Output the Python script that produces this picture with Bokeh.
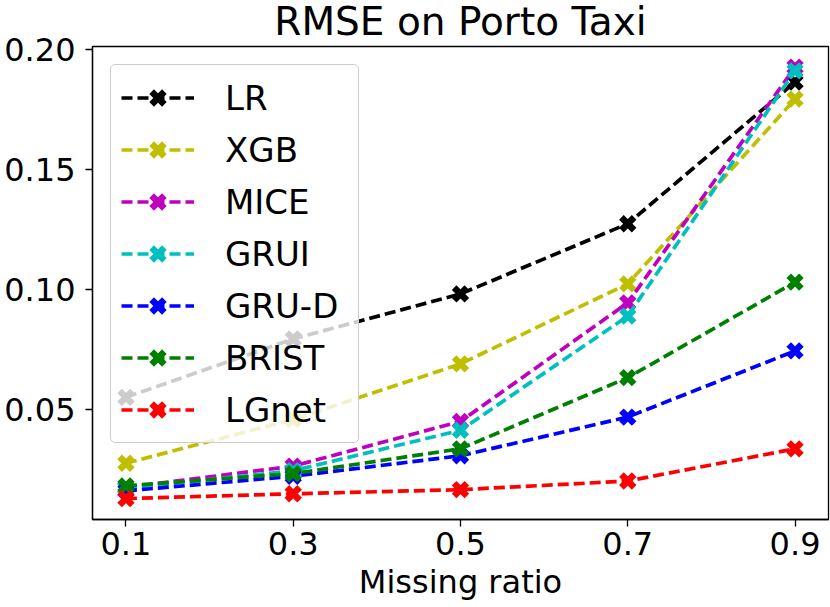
from bokeh.plotting import figure
from bokeh.models import Range1d, FixedTicker, Legend, LegendItem, Label
from bokeh.embed import file_html
from bokeh.resources import INLINE

# ---- data ----
ratios = [0.1, 0.3, 0.5, 0.7, 0.9]
x_tick_labels = ["0.1", "0.3", "0.5", "0.7", "0.9"]
y_ticks = [0.05, 0.10, 0.15, 0.20]
y_tick_labels = ["0.05", "0.10", "0.15", "0.20"]

methods = ["LR", "XGB", "MICE", "GRUI", "GRU-D", "BRIST", "LGnet"]
LR = [0.0552, 0.0795, 0.0982, 0.1274, 0.1863]
XGB = [0.0278, 0.0460, 0.0691, 0.1024, 0.1792]
MICE = [0.0177, 0.0266, 0.0452, 0.0945, 0.1925]
GRUI = [0.0173, 0.0247, 0.0415, 0.0890, 0.1910]
GRU_D = [0.0163, 0.0224, 0.0309, 0.0470, 0.0745]
BRIST = [0.0184, 0.0235, 0.0338, 0.0634, 0.1031]
LGnet = [0.0131, 0.0151, 0.0168, 0.0204, 0.0338]
series = [LR, XGB, MICE, GRUI, GRU_D, BRIST, LGnet]
colors = ["#000000", "#bfbf00", "#bf00bf", "#00bfbf", "#0000ff", "#008000", "#ff0000"]

FONT = "DejaVu Sans"

p = figure(width=830, height=607, output_backend="svg", toolbar_location=None,
           x_range=Range1d(0.06, 0.94), y_range=Range1d(0.0044, 0.2011),
           min_border_left=92, min_border_right=2, min_border_top=46, min_border_bottom=88)
p.title = None
p.grid.visible = False
p.background_fill_color = "white"
p.border_fill_color = "white"
p.outline_line_color = "black"
p.outline_line_width = 1.3

# axes
p.xaxis.ticker = FixedTicker(ticks=ratios)
p.xaxis.major_label_overrides = {t: l for t, l in zip(ratios, x_tick_labels)}
p.yaxis.ticker = FixedTicker(ticks=y_ticks)
p.yaxis.major_label_overrides = {t: l for t, l in zip(y_ticks, y_tick_labels)}
for ax in (p.xaxis, p.yaxis):
    ax.axis_line_color = "black"
    ax.axis_line_width = 1.3
    ax.major_tick_line_color = "black"
    ax.major_tick_line_width = 1.3
    ax.major_tick_out = 7
    ax.major_tick_in = 0
    ax.minor_tick_out = 0
    ax.minor_tick_in = 0
    ax.major_label_text_font = FONT
    ax.major_label_text_font_size = "32px"
    ax.major_label_text_color = "black"
    ax.axis_label_text_font = FONT
    ax.axis_label_text_font_style = "normal"
    ax.axis_label_text_color = "black"
p.xaxis.major_label_standoff = 5
p.yaxis.major_label_standoff = 10
p.xaxis.axis_label = "Missing ratio"
p.xaxis.axis_label_text_font_size = "32px"
p.xaxis.axis_label_standoff = 5

items = []
for name, vals, col in zip(methods, series, colors):
    ln = p.line(ratios, vals, line_color=col, line_width=3.7, line_dash="11 5")
    sc = p.scatter(ratios, vals, marker="x", size=18, line_color=col, line_width=6.5)
    items.append(LegendItem(label=name, renderers=[ln, sc]))

legend = Legend(items=items, location="top_left", margin=18, padding=10,
                spacing=7, glyph_width=73, glyph_height=45, label_height=40,
                label_width=123, label_standoff=31,
                label_text_font=FONT, label_text_font_size="34px",
                label_text_color="black",
                background_fill_color="white", background_fill_alpha=0.8,
                border_line_color="#cccccc", border_line_width=1.2, border_line_alpha=1.0)
legend.border_radius = 5
p.add_layout(legend)

title = Label(x=368, y=25.5, x_units="screen", y_units="screen",
              text="RMSE on Porto Taxi", text_align="center", text_baseline="middle",
              text_font=FONT, text_font_size="39px", text_color="black")
p.add_layout(title, "above")

open("out.html", "w").write(file_html(p, INLINE))
